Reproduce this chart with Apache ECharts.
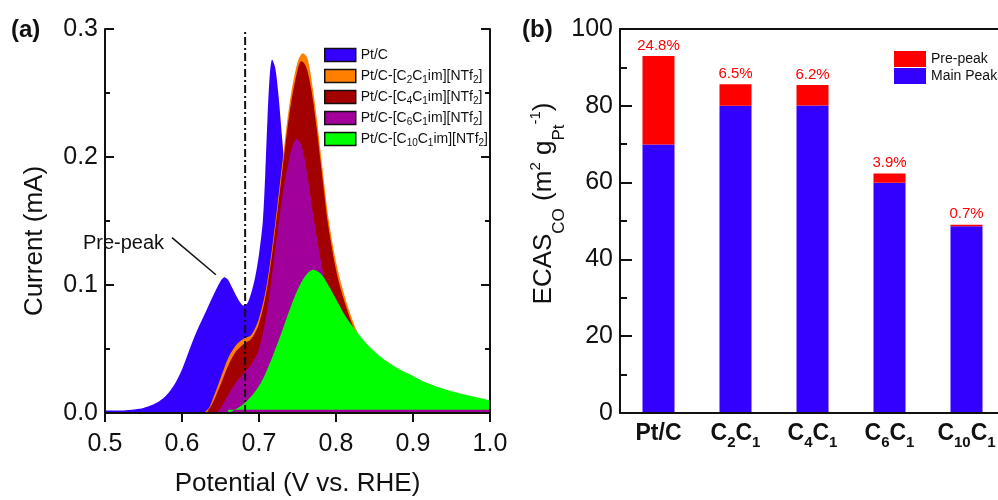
<!DOCTYPE html>
<html>
<head>
<meta charset="utf-8">
<script src="https://cdn.jsdelivr.net/npm/echarts@6/dist/echarts.min.js"></script>
<style>
  html, body { margin: 0; padding: 0; background: #fff; }
  #chart { width: 998px; height: 500px; }
</style>
</head>
<body>
<div id="chart"></div>
<script>
// ---- (a) CO stripping voltammograms: [potential V vs. RHE, current mA] ----
const seriesNames = [
  'Pt/C',
  'Pt/C-[C2C1im][NTf2]',
  'Pt/C-[C4C1im][NTf2]',
  'Pt/C-[C6C1im][NTf2]',
  'Pt/C-[C10C1im][NTf2]'
];

const ptC = [
  [0.50, 0.002], [0.52, 0.002], [0.54, 0.003], [0.55, 0.004], [0.56, 0.006],
  [0.57, 0.009], [0.58, 0.014], [0.59, 0.022], [0.60, 0.034], [0.61, 0.050],
  [0.62, 0.065], [0.63, 0.078], [0.64, 0.091], [0.65, 0.103], [0.655, 0.106],
  [0.66, 0.104], [0.665, 0.098], [0.67, 0.092], [0.675, 0.087], [0.68, 0.084],
  [0.685, 0.086], [0.69, 0.094], [0.695, 0.106], [0.70, 0.124], [0.705, 0.150],
  [0.708, 0.185], [0.711, 0.230], [0.714, 0.264], [0.717, 0.276], [0.721, 0.270],
  [0.725, 0.250], [0.73, 0.215], [0.735, 0.178], [0.74, 0.140], [0.75, 0.085],
  [0.76, 0.050], [0.77, 0.028], [0.78, 0.016], [0.80, 0.008], [0.85, 0.004],
  [1.00, 0.002]
];

const c2c1 = [
  [0.628, 0.000], [0.635, 0.004], [0.64, 0.011], [0.65, 0.027], [0.66, 0.043],
  [0.67, 0.053], [0.68, 0.058], [0.69, 0.061], [0.70, 0.074], [0.71, 0.100],
  [0.72, 0.143], [0.73, 0.194], [0.74, 0.243], [0.75, 0.274], [0.757, 0.281],
  [0.763, 0.277], [0.77, 0.253], [0.775, 0.230], [0.78, 0.204], [0.785, 0.178],
  [0.79, 0.153], [0.80, 0.118], [0.81, 0.094], [0.82, 0.075], [0.83, 0.060],
  [0.84, 0.048], [0.86, 0.033], [0.88, 0.022], [0.92, 0.013], [1.00, 0.007]
];

const c4c1 = [
  [0.632, 0.000], [0.64, 0.008], [0.65, 0.022], [0.66, 0.037], [0.67, 0.048],
  [0.68, 0.054], [0.69, 0.058], [0.70, 0.070], [0.71, 0.096], [0.72, 0.138],
  [0.73, 0.188], [0.74, 0.236], [0.75, 0.268], [0.755, 0.275], [0.76, 0.272],
  [0.765, 0.262], [0.77, 0.245], [0.775, 0.222], [0.78, 0.196], [0.785, 0.170],
  [0.79, 0.146], [0.80, 0.112], [0.81, 0.089], [0.82, 0.071], [0.83, 0.056],
  [0.84, 0.045], [0.86, 0.030], [0.88, 0.020], [0.92, 0.011], [1.00, 0.006]
];

const c6c1 = [
  [0.645, 0.000], [0.65, 0.004], [0.66, 0.014], [0.67, 0.024], [0.68, 0.031],
  [0.69, 0.038], [0.70, 0.050], [0.71, 0.078], [0.72, 0.122], [0.73, 0.168],
  [0.74, 0.201], [0.745, 0.211], [0.749, 0.214], [0.755, 0.209], [0.76, 0.196],
  [0.765, 0.177], [0.77, 0.156], [0.78, 0.120], [0.79, 0.091], [0.80, 0.068],
  [0.81, 0.051], [0.82, 0.038], [0.84, 0.022], [0.87, 0.012], [0.92, 0.007],
  [1.00, 0.004]
];

const c10c1 = [
  [0.66, 0.000], [0.67, 0.003], [0.68, 0.007], [0.69, 0.013], [0.70, 0.021],
  [0.71, 0.033], [0.72, 0.048], [0.73, 0.064], [0.74, 0.081], [0.75, 0.096],
  [0.76, 0.107], [0.77, 0.112], [0.78, 0.109], [0.79, 0.100], [0.80, 0.089],
  [0.81, 0.078], [0.82, 0.069], [0.84, 0.054], [0.86, 0.043], [0.88, 0.035],
  [0.90, 0.029], [0.92, 0.023], [0.95, 0.017], [1.00, 0.010]
];

const onsetPotential = 0.682;   // dash-dot reference line
const potentialTicks = [0.5, 0.6, 0.7, 0.8, 0.9, 1.0];
const currentTicks = [0.0, 0.1, 0.2, 0.3];

// ---- (b) electrochemically active surface area from CO stripping ----
const samples = ['Pt/C', 'C2C1', 'C4C1', 'C6C1', 'C10C1'];
const ecasTotal = [93.0, 85.6, 85.4, 62.4, 49.0];       // m2 gPt-1
const prePeakShare = [24.8, 6.5, 6.2, 3.9, 0.7];        // % of total
const ecasTicks = [0, 20, 40, 60, 80, 100];

const prePeak = ecasTotal.map((t, i) => t * prePeakShare[i] / 100);
const mainPeak = ecasTotal.map((t, i) => t - prePeak[i]);

// ---- styling ----
const FONT = 'Liberation Sans, Arial, Helvetica, sans-serif';
const INK = '#111';
const curveColors = ['#3300ff', '#ff8000', '#a30000', '#a1009b', '#00ff00'];
const curves = [ptC, c2c1, c4c1, c6c1, c10c1];

const subDigits = s => s.replace(/(\d+)/g, '{s|$1}');

const chart = echarts.init(document.getElementById('chart'), null, { renderer: 'canvas' });

const frameLine = { show: true, lineStyle: { color: INK, width: 2 } };

const option = {
  animation: false,
  backgroundColor: '#fff',
  textStyle: { fontFamily: FONT, color: INK },
  title: [
    { text: '(a)', left: 11, top: 18, padding: 0,
      textStyle: { fontFamily: FONT, fontSize: 24, fontWeight: 'bold', color: INK } },
    { text: '(b)', left: 522, top: 18, padding: 0,
      textStyle: { fontFamily: FONT, fontSize: 24, fontWeight: 'bold', color: INK } }
  ],
  grid: [
    { left: 105, top: 29, width: 385, height: 384, outerBoundsMode: 'none' },
    { left: 620, top: 29, width: 385, height: 384, outerBoundsMode: 'none' }
  ],
  legend: [
    {
      data: seriesNames.map((n, i) => ({ name: n, itemStyle: { color: curveColors[i] } })),
      orient: 'vertical', left: 324, top: 46, padding: 0,
      itemWidth: 31, itemHeight: 13, itemGap: 3,
      icon: 'rect',
      itemStyle: { borderColor: INK, borderWidth: 1.5 },
      lineStyle: { width: 0 },
      selectedMode: false,
      formatter: n => subDigits(n),
      textStyle: {
        fontFamily: FONT, fontSize: 14, lineHeight: 18, color: INK, verticalAlign: 'top',
        rich: { s: { fontFamily: FONT, fontSize: 10, lineHeight: 10, verticalAlign: 'top', padding: [8, 0, 0, 0], color: INK } }
      }
    },
    {
      data: ['Pre-peak', 'Main Peak'],
      orient: 'vertical', left: 894, top: 51, padding: 0,
      itemWidth: 32, itemHeight: 16, itemGap: 1,
      icon: 'rect', selectedMode: false,
      textStyle: { fontFamily: FONT, fontSize: 14, color: INK }
    }
  ],
  xAxis: [
    {
      type: 'value', gridIndex: 0, position: 'bottom', z: 10,
      min: potentialTicks[0], max: potentialTicks[potentialTicks.length - 1], interval: 0.1,
      axisLine: frameLine,
      axisTick: { show: false },
      splitLine: { show: false },
      axisLabel: { fontFamily: FONT, fontSize: 25, color: INK, margin: 19,
        formatter: v => v.toFixed(1) },
      name: 'Potential (V vs. RHE)', nameLocation: 'middle', nameGap: 58,
      nameTextStyle: { fontFamily: FONT, fontSize: 26, color: INK }
    },
    {
      type: 'value', gridIndex: 0, position: 'top', z: 10,
      min: potentialTicks[0], max: potentialTicks[potentialTicks.length - 1], interval: 0.1,
      axisLine: frameLine,
      axisTick: { show: true, inside: true, length: 9, lineStyle: { color: INK, width: 2 } },
      splitLine: { show: false },
      axisLabel: { show: false }
    },
    {
      type: 'category', gridIndex: 1, position: 'bottom', data: samples, z: 10,
      axisLine: frameLine,
      axisTick: { show: false },
      axisLabel: {
        margin: 6.5, interval: 0,
        formatter: v => subDigits(v),
        fontFamily: FONT, fontSize: 23, fontWeight: 'bold', lineHeight: 28, color: INK,
        verticalAlign: 'top',
        rich: { s: { fontFamily: FONT, fontSize: 15, fontWeight: 'bold', lineHeight: 15,
          verticalAlign: 'top', padding: [15.5, 0, 0, 0], color: INK } }
      }
    },
    {
      type: 'category', gridIndex: 1, position: 'top', data: samples, z: 10,
      axisLine: frameLine, axisTick: { show: false }, axisLabel: { show: false }
    }
  ],
  yAxis: [
    {
      type: 'value', gridIndex: 0, position: 'left', z: 10,
      min: currentTicks[0], max: currentTicks[currentTicks.length - 1], interval: 0.1,
      axisLine: frameLine,
      axisTick: { show: true, inside: true, length: 9, lineStyle: { color: INK, width: 2 } },
      minorTick: { show: true, splitNumber: 2, length: 5, lineStyle: { color: INK, width: 2 } },
      splitLine: { show: false }, minorSplitLine: { show: false },
      axisLabel: { fontFamily: FONT, fontSize: 25, color: INK, margin: 7,
        formatter: v => v.toFixed(1) },
      name: 'Current (mA)', nameLocation: 'middle', nameGap: 57,
      nameTextStyle: { fontFamily: FONT, fontSize: 26, color: INK, padding: [0, 40, 0, 0] }
    },
    {
      type: 'value', gridIndex: 0, position: 'right', z: 10,
      min: currentTicks[0], max: currentTicks[currentTicks.length - 1], interval: 0.1,
      axisLine: frameLine,
      axisTick: { show: true, inside: true, length: 9, lineStyle: { color: INK, width: 2 } },
      minorTick: { show: true, splitNumber: 2, length: 5, lineStyle: { color: INK, width: 2 } },
      splitLine: { show: false }, minorSplitLine: { show: false },
      axisLabel: { show: false }
    },
    {
      type: 'value', gridIndex: 1, position: 'left', z: 10,
      min: ecasTicks[0], max: ecasTicks[ecasTicks.length - 1], interval: 20,
      axisLine: frameLine,
      axisTick: { show: true, inside: true, length: 12, lineStyle: { color: INK, width: 2 } },
      minorTick: { show: true, splitNumber: 2, length: 7, lineStyle: { color: INK, width: 2 } },
      splitLine: { show: false }, minorSplitLine: { show: false },
      axisLabel: { fontFamily: FONT, fontSize: 25, color: INK, margin: 7 },
      name: 'ECAS{sub|CO} (m{sup|2} g{sub|Pt}{sup|-1})',
      nameLocation: 'middle', nameGap: 48,
      nameTextStyle: {
        fontFamily: FONT, fontSize: 26, lineHeight: 30, color: INK,
        verticalAlign: 'top', padding: [2, 0, 0, 35],
        rich: {
          sub: { fontFamily: FONT, fontSize: 17, lineHeight: 17, verticalAlign: 'top', padding: [22, 0, 0, 0], color: INK },
          sup: { fontFamily: FONT, fontSize: 15, lineHeight: 15, verticalAlign: 'top', padding: [0, 0, 0, 0], color: INK }
        }
      }
    }
  ],
  series: [
    ...curves.map((d, i) => ({
      name: seriesNames[i],
      type: 'line', xAxisIndex: 0, yAxisIndex: 0,
      data: d,
      smooth: 0.3,
      showSymbol: false, symbol: 'none',
      color: curveColors[i],
      itemStyle: { color: curveColors[i] },
      lineStyle: { color: curveColors[i], width: 0 },
      areaStyle: i === 4 ? { color: curveColors[i], opacity: 1, origin: 0.0025 }
                         : { color: curveColors[i], opacity: 1 },
      silent: true
    })),
    {
      name: 'onset',
      type: 'line', xAxisIndex: 0, yAxisIndex: 0, z: 5,
      data: [[onsetPotential, currentTicks[0]], [onsetPotential, currentTicks[currentTicks.length - 1]]],
      showSymbol: false, symbol: 'none',
      lineStyle: { color: INK, width: 2, type: [8, 3, 2, 3] },
      silent: true,
      markLine: {
        silent: true, symbol: ['none', 'arrow'], symbolSize: [0, 10],
        lineStyle: { color: INK, width: 1.5, type: 'solid' },
        label: { show: false },
        data: [[{ coord: [0.587, 0.137] }, { coord: [0.644, 0.108] }]]
      },
      markPoint: {
        silent: true,
        data: [{
          coord: [0.524, 0.1324], symbol: 'rect', symbolSize: 1,
          itemStyle: { color: 'rgba(0,0,0,0)' },
          label: { show: true, position: 'inside', formatter: 'Pre-peak',
            fontFamily: FONT, fontSize: 20, color: INK }
        }]
      }
    },
    {
      name: 'Main Peak', type: 'bar', xAxisIndex: 2, yAxisIndex: 2,
      stack: 'ecas', barWidth: 32,
      itemStyle: { color: '#3300ff' },
      data: mainPeak
    },
    {
      name: 'Pre-peak', type: 'bar', xAxisIndex: 2, yAxisIndex: 2,
      stack: 'ecas', barWidth: 32,
      itemStyle: { color: '#ff0000' },
      data: prePeak,
      label: {
        show: true, position: 'top', distance: 3,
        formatter: p => prePeakShare[p.dataIndex].toFixed(1) + '%',
        fontFamily: FONT, fontSize: 15, color: '#ff0000'
      }
    }
  ]
};

chart.setOption(option);
</script>
</body>
</html>
